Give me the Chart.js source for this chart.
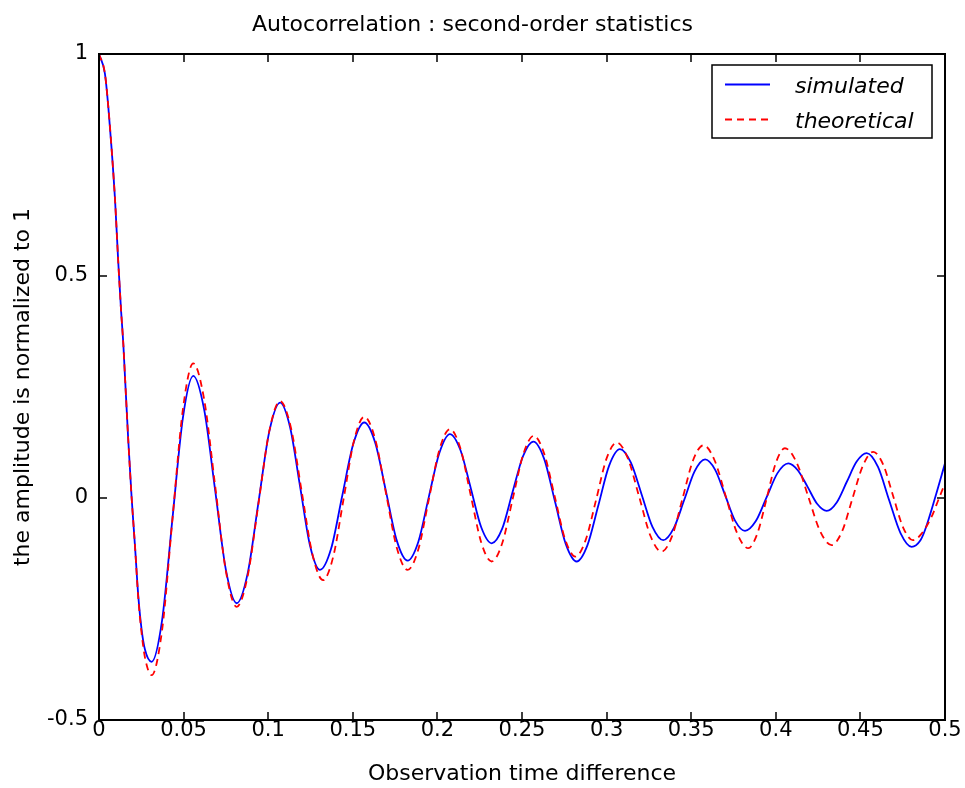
<!DOCTYPE html>
<html>
<head>
<meta charset="utf-8">
<title>Autocorrelation</title>
<script src="https://cdn.jsdelivr.net/npm/chart.js@4.4.1/dist/chart.umd.min.js"></script>
<style>
  html, body { margin: 0; padding: 0; background: #fff; }
  canvas { display: block; }
</style>
</head>
<body>
<canvas id="grafico" width="965" height="788"></canvas>
<script>
// Ejes
const xTickValues = [0, 0.05, 0.1, 0.15, 0.2, 0.25, 0.3, 0.35, 0.4, 0.45, 0.5];
const xTickLabels = ['0', '0.05', '0.1', '0.15', '0.2', '0.25', '0.3', '0.35', '0.4', '0.45', '0.5'];
const yTickValues = [-0.5, 0, 0.5, 1];
const yTickLabels = ['-0.5', '0', '0.5', '1'];

// Autocorrelación simulada (tiempo / amplitud normalizada)
const simT = [0, 0.0035, 0.0055, 0.0075, 0.0095, 0.0114, 0.0130, 0.0144, 0.0154, 0.0173,
  0.0193, 0.0213, 0.0232, 0.0252, 0.0272, 0.0311, 0.0373, 0.0434, 0.0496, 0.0557,
  0.0621, 0.0686, 0.0750, 0.0814, 0.0878, 0.0942, 0.1006, 0.1070, 0.1129, 0.1188,
  0.1247, 0.1306,
  0.1372, 0.1437, 0.1503, 0.1568, 0.1632, 0.1696, 0.1760, 0.1824, 0.1887, 0.1949,
  0.2012, 0.2074, 0.2136, 0.2198, 0.2259, 0.2321, 0.2383, 0.2444, 0.2506, 0.2567,
  0.2631, 0.2695, 0.2759, 0.2823, 0.2887, 0.2951, 0.3015, 0.3079, 0.3143, 0.3207,
  0.3271, 0.3335, 0.3397, 0.3459, 0.3520, 0.3582, 0.3641, 0.3700, 0.3759, 0.3818,
  0.3882, 0.3946, 0.4010, 0.4074, 0.4131, 0.4188, 0.4244, 0.4301, 0.4360, 0.4419,
  0.4478, 0.4537, 0.4604, 0.4670, 0.4737, 0.4803, 0.4855, 0.4882, 0.4941, 0.5];
const simV = [1.0, 0.956, 0.881, 0.784, 0.67, 0.53, 0.425, 0.345, 0.27, 0.13,
  0.0, -0.11, -0.22, -0.297, -0.342, -0.369, -0.275, -0.047, 0.181, 0.275,
  0.200, 0.019, -0.162, -0.237, -0.171, -0.011, 0.149, 0.215, 0.160, 0.027,
  -0.107, -0.162,
  -0.114, 0.004, 0.122, 0.170, 0.125, 0.015, -0.096, -0.141, -0.099, 0.002,
  0.102, 0.144, 0.108, 0.021, -0.066, -0.102, -0.069, 0.013, 0.094, 0.127,
  0.088, -0.008, -0.104, -0.143, -0.106, -0.017, 0.073, 0.110, 0.080, 0.008,
  -0.065, -0.095, -0.068, -0.004, 0.060, 0.087, 0.064, 0.007, -0.051, -0.074,
  -0.052, 0.002, 0.056, 0.078, 0.062, 0.025, -0.013, -0.029, -0.010, 0.036,
  0.082, 0.101, 0.070, -0.005, -0.079, -0.110, -0.095, -0.072, 0.0, 0.078];

// Autocorrelación teórica
const theoT = [0, 0.0035, 0.0055, 0.0075, 0.0095, 0.0114, 0.0130, 0.0144, 0.0154, 0.0173,
  0.0193, 0.0213, 0.0232, 0.0252, 0.0272, 0.0311, 0.0373, 0.0434, 0.0496, 0.0557,
  0.0621, 0.0686, 0.0750, 0.0814, 0.0878, 0.0942, 0.1006, 0.1070, 0.1134, 0.1197,
  0.1261, 0.1324,
  0.1385, 0.1446, 0.1507, 0.1568, 0.1632, 0.1696, 0.1760, 0.1824, 0.1887, 0.1949,
  0.2012, 0.2074, 0.2136, 0.2197, 0.2259, 0.2320, 0.2383, 0.2445, 0.2508, 0.2570,
  0.2631, 0.2693, 0.2754, 0.2815, 0.2876, 0.2938, 0.2999, 0.3060, 0.3126, 0.3193,
  0.3259, 0.3325, 0.3387, 0.3449, 0.3510, 0.3572, 0.3638, 0.3705, 0.3771, 0.3837,
  0.3891, 0.3946, 0.4000, 0.4054, 0.4123, 0.4192, 0.4261, 0.4330, 0.4392, 0.4453,
  0.4515, 0.4576, 0.4635, 0.4693, 0.4752, 0.4810, 0.4858, 0.4921, 0.4960, 0.5];
const theoV = [1.0, 0.956, 0.881, 0.784, 0.67, 0.53, 0.425, 0.345, 0.27, 0.13,
  0.0, -0.11, -0.225, -0.305, -0.36, -0.399, -0.297, -0.048, 0.200, 0.303,
  0.223, 0.029, -0.165, -0.245, -0.177, -0.014, 0.150, 0.218, 0.159, 0.017,
  -0.126, -0.185,
  -0.131, -0.001, 0.129, 0.183, 0.133, 0.011, -0.112, -0.162, -0.116, -0.004,
  0.109, 0.155, 0.112, 0.006, -0.100, -0.143, -0.102, -0.002, 0.099, 0.140,
  0.100, 0.004, -0.092, -0.132, -0.095, -0.004, 0.088, 0.125, 0.089, 0.002,
  -0.085, -0.121, -0.086, -0.001, 0.084, 0.119, 0.085, 0.003, -0.079, -0.113,
  -0.080, -0.001, 0.079, 0.112, 0.080, 0.003, -0.074, -0.106, -0.075, -0.001,
  0.073, 0.104, 0.075, 0.005, -0.066, -0.095, -0.082, -0.042, -0.005, 0.033];

const FUENTE = "'DejaVu Sans', 'Liberation Sans', sans-serif";
Chart.defaults.font.family = FUENTE;
Chart.defaults.color = '#000';

// Marco con marcas hacia dentro en los cuatro lados
const marcoEjes = {
  id: 'marcoEjes',
  afterDatasetsDraw(chart) {
    const { ctx, chartArea: a, scales: { x, y } } = chart;
    const largo = 8;
    ctx.save();
    ctx.strokeStyle = '#000';
    ctx.lineWidth = 1.5;
    ctx.beginPath();
    xTickValues.forEach(v => {
      const px = Math.round(x.getPixelForValue(v));
      ctx.moveTo(px, a.bottom); ctx.lineTo(px, a.bottom - largo);
      ctx.moveTo(px, a.top); ctx.lineTo(px, a.top + largo);
    });
    yTickValues.forEach(v => {
      const py = Math.round(y.getPixelForValue(v));
      ctx.moveTo(a.left, py); ctx.lineTo(a.left + largo, py);
      ctx.moveTo(a.right, py); ctx.lineTo(a.right - largo, py);
    });
    ctx.stroke();
    ctx.lineWidth = 2;
    ctx.strokeRect(a.left, a.top, a.right - a.left, a.bottom - a.top);
    ctx.restore();
  }
};

// Leyenda dentro del área del gráfico (esquina superior derecha)
const leyenda = {
  id: 'leyenda',
  afterDraw(chart) {
    const { ctx } = chart;
    const caja = { x: 712, y: 65, w: 220, h: 73 };
    ctx.save();
    ctx.fillStyle = '#fff';
    ctx.fillRect(caja.x, caja.y, caja.w, caja.h);
    ctx.strokeStyle = '#000';
    ctx.lineWidth = 1.5;
    ctx.strokeRect(caja.x, caja.y, caja.w, caja.h);
    ctx.font = 'italic 22px ' + FUENTE;
    ctx.textBaseline = 'alphabetic';
    ctx.textAlign = 'left';
    chart.data.datasets.forEach((ds, i) => {
      const yLinea = caja.y + 19.5 + i * 35;
      ctx.strokeStyle = ds.borderColor;
      ctx.lineWidth = ds.borderWidth;
      ctx.setLineDash(ds.borderDash || []);
      ctx.beginPath();
      ctx.moveTo(725, yLinea);
      ctx.lineTo(770, yLinea);
      ctx.stroke();
      ctx.setLineDash([]);
      ctx.fillStyle = '#000';
      ctx.fillText(ds.label, 795, yLinea + 8.5);
    });
    ctx.restore();
  }
};

const ctx = document.getElementById('grafico').getContext('2d');

new Chart(ctx, {
  type: 'line',
  data: {
    datasets: [
      {
        label: 'simulated',
        data: simT.map((t, i) => ({ x: t, y: simV[i] })),
        borderColor: '#0000ff',
        borderWidth: 1.8,
        order: 1
      },
      {
        label: 'theoretical',
        data: theoT.map((t, i) => ({ x: t, y: theoV[i] })),
        borderColor: '#ff0000',
        borderWidth: 1.8,
        borderDash: [7, 5],
        order: 0
      }
    ]
  },
  options: {
    responsive: false,
    animation: false,
    devicePixelRatio: 1,
    layout: { padding: { right: 20 } },
    elements: {
      point: { radius: 0 },
      line: { cubicInterpolationMode: 'monotone', fill: false }
    },
    plugins: {
      legend: { display: false },
      tooltip: { enabled: false },
      title: {
        display: true,
        text: 'Autocorrelation : second-order statistics',
        font: { size: 22, weight: 'normal' },
        padding: { top: 12, bottom: 15.6 }
      }
    },
    scales: {
      x: {
        type: 'linear',
        min: 0,
        max: 0.5,
        afterBuildTicks: s => { s.ticks = xTickValues.map(v => ({ value: v })); },
        afterFit: s => { s.height = 68; },
        ticks: {
          autoSkip: false,
          maxRotation: 0,
          padding: 0,
          font: { size: 21, lineHeight: 1 },
          callback: (v, i) => xTickLabels[i]
        },
        grid: { display: false, drawTicks: false },
        border: { display: false },
        title: {
          display: true,
          text: 'Observation time difference',
          font: { size: 22 },
          padding: { top: 0, bottom: 1 }
        }
      },
      y: {
        type: 'linear',
        min: -0.5,
        max: 1,
        afterBuildTicks: s => { s.ticks = yTickValues.map(v => ({ value: v })); },
        afterFit: s => { s.width = 99; },
        ticks: {
          padding: 11,
          font: { size: 21 },
          callback: (v, i) => yTickLabels[i]
        },
        grid: { display: false, drawTicks: false },
        border: { display: false },
        title: {
          display: true,
          text: 'the amplitude is normalized to 1',
          font: { size: 22 },
          padding: { top: 10, bottom: 0 }
        }
      }
    }
  },
  plugins: [marcoEjes, leyenda]
});
</script>
</body>
</html>
